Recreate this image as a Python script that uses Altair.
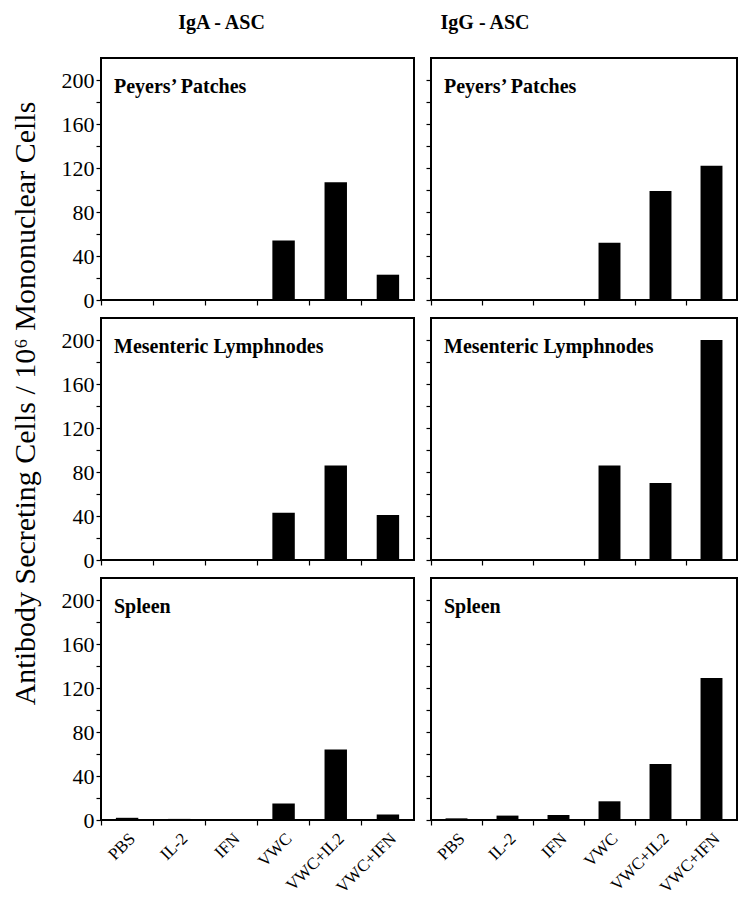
import altair as alt
import pandas as pd

treatments = ["PBS", "IL-2", "IFN", "VWC", "VWC+IL2", "VWC+IFN"]

iga_peyers = [0, 0.5, 0.5, 54, 107, 23]
igg_peyers = [0, 0, 0.8, 52, 99, 122]
iga_mesenteric = [0, 0, 0.5, 43, 86, 41]
igg_mesenteric = [0, 0, 0, 86, 70, 200]
iga_spleen = [2, 1, 0, 15, 64, 5]
igg_spleen = [1.5, 4, 4.5, 17, 51, 129]

tissues = ["Peyers\u2019 Patches", "Mesenteric Lymphnodes", "Spleen"]
columns = ["IgA - ASC", "IgG - ASC"]
y_title = "Antibody Secreting Cells / 10\u2076 Mononuclear Cells"

SERIF = "Liberation Serif"
PLOT_H = 242
LEFT_W = 313
RIGHT_W = 306


def panel(values, tissue, left, bottom, width, title=None, ytitle=False):
    df = pd.DataFrame({"t": treatments, "v": values})
    xscale = alt.Scale(domain=treatments, paddingInner=0, paddingOuter=0)
    yaxis_args = dict(
        values=list(range(0, 201, 20)),
        labelExpr="datum.value % 40 == 0 ? datum.label : ''",
        labels=left,
        grid=False,
        domain=False,
        tickSize=5,
        tickColor="black",
        tickWidth=1.2,
        labelFont=SERIF,
        labelFontSize=22,
        labelColor="black",
        labelPadding=2,
        title=None,
    )
    if ytitle:
        yaxis_args.update(
            title=y_title,
            titleFont=SERIF,
            titleFontSize=30,
            titleFontWeight="normal",
            titleColor="black",
            titleX=-76,
            titleY=85,
            titleBaseline="middle",
            titleAngle=-90,
        )
    bars = alt.Chart(df).mark_bar(color="black", width=alt.RelativeBandSize(0.43)).encode(
        x=alt.X(
            "t:N",
            sort=treatments,
            scale=xscale,
            axis=alt.Axis(
                labels=bottom,
                ticks=True,
                tickSize=5,
                tickColor="black",
                tickWidth=1.2,
                bandPosition=0,
                domain=False,
                title=None,
                labelAngle=-45,
                labelFont=SERIF,
                labelFontSize=17,
                labelColor="black",
                labelPadding=5,
            ),
        ),
        y=alt.Y("v:Q", scale=alt.Scale(domain=[0, 220], nice=False), axis=alt.Axis(**yaxis_args)),
    )
    label = alt.Chart(pd.DataFrame({"name": [tissue]})).mark_text(
        align="left", baseline="alphabetic", font=SERIF, fontWeight="bold",
        fontSize=20, color="black",
    ).encode(text="name:N", x=alt.value(13), y=alt.value(35))
    props = dict(width=width, height=PLOT_H)
    if title:
        props["title"] = alt.TitleParams(
            title, font=SERIF, fontSize=20, fontWeight="bold", color="black",
            frame="group", anchor="middle", dx=-36 if left else -99, offset=25,
        )
    return alt.layer(bars, label).properties(**props)


panels = [
    panel(iga_peyers, tissues[0], True, False, LEFT_W, title=columns[0]),
    panel(igg_peyers, tissues[0], False, False, RIGHT_W, title=columns[1]),
    panel(iga_mesenteric, tissues[1], True, False, LEFT_W, ytitle=True),
    panel(igg_mesenteric, tissues[1], False, False, RIGHT_W),
    panel(iga_spleen, tissues[2], True, True, LEFT_W),
    panel(igg_spleen, tissues[2], False, True, RIGHT_W),
]

chart = alt.concat(
    *panels, columns=2, spacing=alt.RowColnumber(row=18, column=17), bounds="flush"
).properties(
    padding={"left": 0, "top": 4, "right": 0, "bottom": 0}
).configure(
    background="white"
).configure_view(
    stroke="black", strokeWidth=2
)

chart.save("out.html", embed_options={"renderer": "svg", "actions": False})
